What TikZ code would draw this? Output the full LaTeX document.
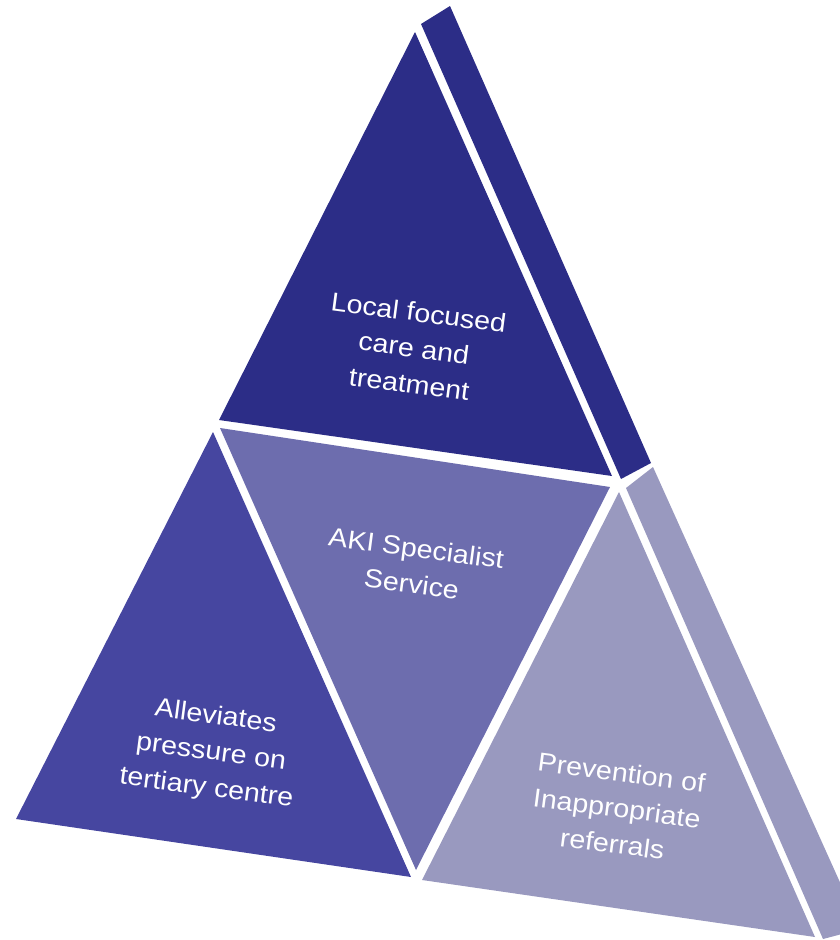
\documentclass[tikz,border=0pt]{standalone}
\usepackage{fontspec}
\setmainfont{Liberation Sans}

\definecolor{topblue}{HTML}{2C2D87}
\definecolor{leftblue}{HTML}{4646A0}
\definecolor{midblue}{HTML}{6D6DAE}
\definecolor{lightblue}{HTML}{9999BF}

\begin{document}
\begin{tikzpicture}[x=1pt, y=-1pt,
  facetext/.style={text=white, align=center,
    font=\fontsize{26}{36}\selectfont, rotate=-7.5, xscale=1.1}]
\useasboundingbox (0, 0) rectangle (840, 940);
\clip (0, 0) rectangle (840, 940);

% side faces
\fill[topblue] (421, 24) -- (450, 6) -- (651, 463) -- (621, 479) -- cycle;
\fill[lightblue] (626, 488) -- (653, 467) -- (861, 929) -- (823, 939) -- cycle;

% front faces
\fill[topblue] (415, 32) -- (219, 420) -- (612, 476) -- cycle;
\fill[midblue] (220, 428) -- (610, 487) -- (416, 870) -- cycle;
\fill[leftblue] (213, 432) -- (16, 819) -- (411, 877) -- cycle;
\fill[lightblue] (619, 492) -- (422, 880) -- (815, 937) -- cycle;

\node[facetext] (local) at (414, 348) {Local focused\\care and\\treatment};
\node[facetext] (aki) at (414, 566) {AKI Specialist\\Service};
\node[facetext] (relief) at (211, 753) {Alleviates\\pressure on\\tertiary centre};
\node[facetext] (refer) at (617, 808) {Prevention of\\Inappropriate\\referrals};
\end{tikzpicture}
\end{document}
